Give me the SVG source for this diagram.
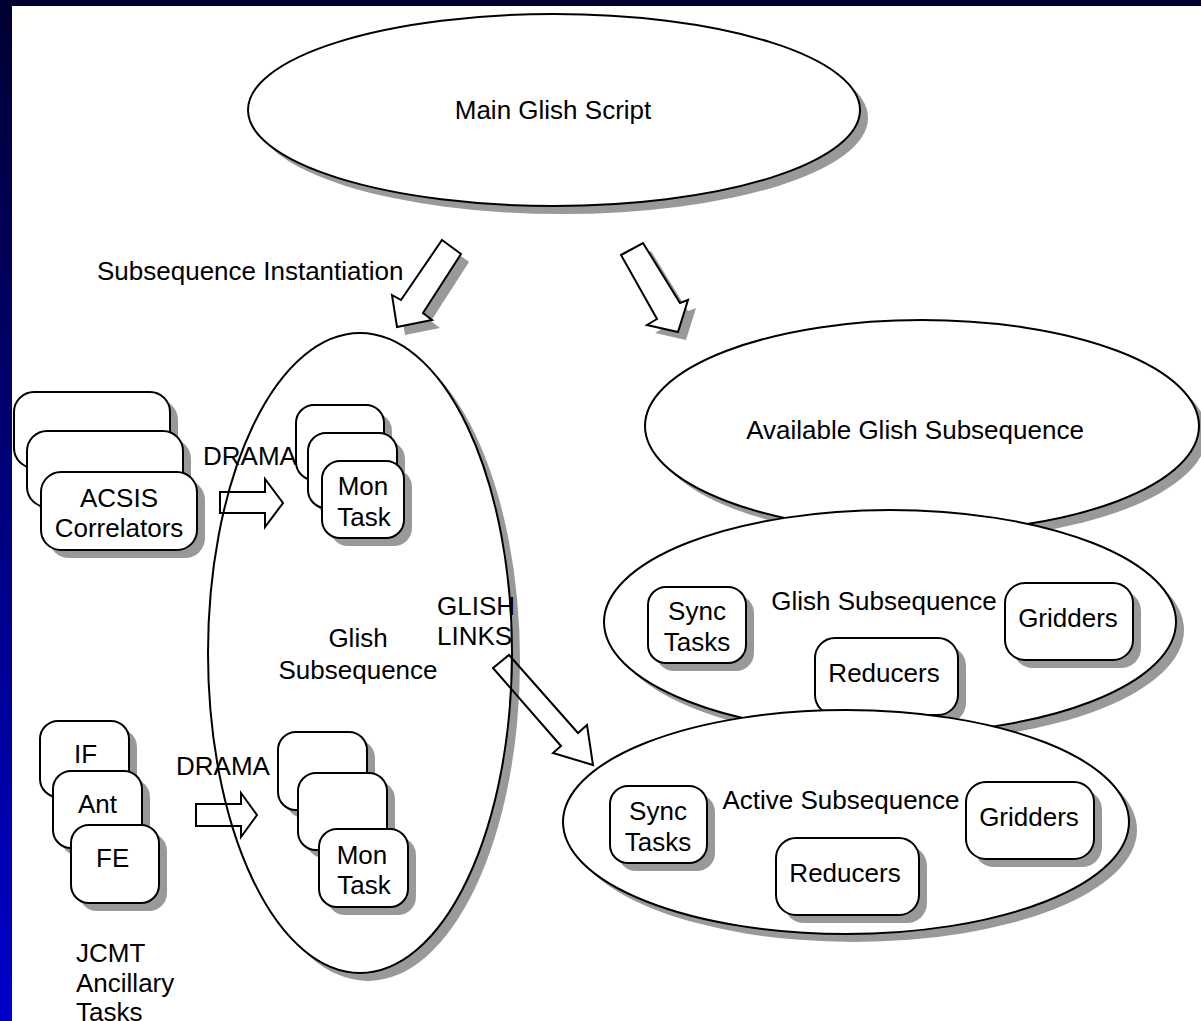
<svg xmlns="http://www.w3.org/2000/svg" width="1201" height="1021" viewBox="0 0 1201 1021">
<defs>
<linearGradient id="band" x1="0" y1="0" x2="0" y2="1">
<stop offset="0" stop-color="#000033"/>
<stop offset="1" stop-color="#0000CC"/>
</linearGradient>
<style>
.sh{fill:#999999;stroke:none}
.sf{fill:#ffffff;stroke:#000000;stroke-width:2}
.nf{fill:none;stroke:#000000;stroke-width:2}
text{font-family:"Liberation Sans",Arial,sans-serif;font-size:26px;fill:#000000}
.c{text-anchor:middle}
</style>
</defs>
<rect x="0" y="0" width="1201" height="1021" fill="#ffffff"/>
<rect x="0" y="0" width="1201" height="6" fill="#000033"/>
<rect x="0" y="0" width="12" height="1021" fill="url(#band)"/>

<g id="main-glish-script">
<ellipse class="sh" cx="562" cy="118" rx="306" ry="96"/>
<ellipse class="sf" cx="554" cy="110" rx="306" ry="96"/>
<text class="c" x="553" y="119">Main Glish Script</text>
</g>

<g id="connectors">
<polygon class="sh" points="450,248 469,262 431,321 440,328 405,335 400,303 409,308"/>
<polygon class="sf" points="442,240 461,254 423,313 432,320 397,327 392,295 401,300"/>
<polygon class="sh" points="629,263 651,251 688,311 696,308 686,340 655,333 665,327"/>
<polygon class="sf" points="621,255 643,243 680,303 688,300 678,332 647,325 657,319"/>
</g>
<text id="label-instantiation" x="97" y="280">Subsequence Instantiation</text>

<g id="available-glish-subsequence">
<ellipse class="sh" cx="930" cy="434" rx="277" ry="106"/>
<ellipse class="sf" cx="922" cy="426" rx="277" ry="106"/>
<text class="c" x="915" y="439">Available Glish Subsequence</text>
</g>

<g id="glish-subsequence-right">
<ellipse class="sh" cx="898" cy="630" rx="286" ry="112"/>
<ellipse class="sf" cx="890" cy="622" rx="286" ry="112"/>
<text class="c" x="884" y="610">Glish Subsequence</text>
</g>
<g id="sync-tasks-1">
<rect class="sh" x="656" y="595" width="98" height="76" rx="18"/>
<rect class="sf" x="648" y="587" width="98" height="76" rx="18"/>
<text class="c" x="697" y="620">Sync</text>
<text class="c" x="697" y="651">Tasks</text>
</g>
<g id="gridders-1">
<rect class="sh" x="1013" y="591" width="128" height="77" rx="20"/>
<rect class="sf" x="1005" y="583" width="128" height="77" rx="20"/>
<text class="c" x="1068" y="627">Gridders</text>
</g>
<g id="reducers-1">
<rect class="sh" x="823" y="646" width="143" height="77" rx="20"/>
<rect class="sf" x="815" y="638" width="143" height="77" rx="20"/>
<text class="c" x="884" y="682">Reducers</text>
</g>

<g id="active-subsequence">
<ellipse class="sh" cx="854" cy="830" rx="283" ry="112"/>
<ellipse class="sf" cx="846" cy="822" rx="283" ry="112"/>
<text class="c" x="841" y="809">Active Subsequence</text>
</g>
<g id="sync-tasks-2">
<rect class="sh" x="618" y="794" width="97" height="77" rx="18"/>
<rect class="sf" x="610" y="786" width="97" height="77" rx="18"/>
<text class="c" x="658" y="820">Sync</text>
<text class="c" x="658" y="851">Tasks</text>
</g>
<g id="gridders-2">
<rect class="sh" x="974" y="790" width="128" height="77" rx="20"/>
<rect class="sf" x="966" y="782" width="128" height="77" rx="20"/>
<text class="c" x="1029" y="826">Gridders</text>
</g>
<g id="reducers-2">
<rect class="sh" x="784" y="846" width="143" height="77" rx="20"/>
<rect class="sf" x="776" y="838" width="143" height="77" rx="20"/>
<text class="c" x="845" y="882">Reducers</text>
</g>

<g id="glish-subsequence-left">
<ellipse class="sh" cx="368" cy="661" rx="152" ry="320"/>
<ellipse class="sf" cx="360" cy="653" rx="152" ry="320"/>
<text class="c" x="358" y="647">Glish</text>
<text class="c" x="358" y="679">Subsequence</text>
</g>

<g id="acsis-correlators">
<rect class="sh" x="22" y="400" width="156" height="76" rx="20"/>
<rect class="sf" x="14" y="392" width="156" height="76" rx="20"/>
<rect class="sh" x="35" y="439" width="156" height="76" rx="20"/>
<rect class="sf" x="27" y="431" width="156" height="76" rx="20"/>
<rect class="sh" x="49" y="480" width="156" height="78" rx="20"/>
<rect class="sf" x="41" y="472" width="156" height="78" rx="20"/>
<text class="c" x="119" y="507">ACSIS</text>
<text class="c" x="119" y="537">Correlators</text>
</g>

<g id="mon-task-1">
<rect class="sh" x="304" y="413" width="88" height="75" rx="18"/>
<rect class="sf" x="296" y="405" width="88" height="75" rx="18"/>
<rect class="sh" x="316" y="441" width="89" height="75" rx="18"/>
<rect class="sf" x="308" y="433" width="89" height="75" rx="18"/>
<rect class="sh" x="330" y="469" width="82" height="77" rx="18"/>
<rect class="sf" x="322" y="461" width="82" height="77" rx="18"/>
<text class="c" x="363" y="495">Mon</text>
<text class="c" x="364" y="526">Task</text>
</g>

<g id="ancillary-tasks">
<rect class="sh" x="48" y="729" width="89" height="76" rx="18"/>
<rect class="sf" x="40" y="721" width="89" height="76" rx="18"/>
<rect class="sh" x="61" y="779" width="89" height="77" rx="18"/>
<rect class="sf" x="53" y="771" width="89" height="77" rx="18"/>
<rect class="sh" x="79" y="833" width="88" height="78" rx="18"/>
<rect class="sf" x="71" y="825" width="88" height="78" rx="18"/>
<text x="74" y="763">IF</text>
<text x="78" y="813">Ant</text>
<text x="96" y="867">FE</text>
</g>
<text x="76" y="962">JCMT</text>
<text x="76" y="992">Ancillary</text>
<text x="76" y="1021">Tasks</text>

<g id="mon-task-2">
<rect class="sh" x="286" y="740" width="89" height="78" rx="18"/>
<rect class="sf" x="278" y="732" width="89" height="78" rx="18"/>
<rect class="sh" x="306" y="781" width="89" height="77" rx="18"/>
<rect class="sf" x="298" y="773" width="89" height="77" rx="18"/>
<rect class="sh" x="327" y="837" width="89" height="78" rx="18"/>
<rect class="sf" x="319" y="829" width="89" height="78" rx="18"/>
<text class="c" x="362" y="864">Mon</text>
<text class="c" x="364" y="894">Task</text>
</g>

<g id="connectors-2">
<polygon class="nf" points="220,492 265,492 265,479 283,503 265,527 265,513 220,513"/>
<polygon class="nf" points="196,804 241,804 241,793 257,815 241,837 241,826 196,826"/>
<polygon class="nf" points="493,668 509,655 578,733 587,725 593,765 553,753 561,746"/>
</g>
<text x="203" y="465">DRAMA</text>
<text x="176" y="775">DRAMA</text>
<text x="437" y="615">GLISH</text>
<text x="437" y="645">LINKS</text>
</svg>
